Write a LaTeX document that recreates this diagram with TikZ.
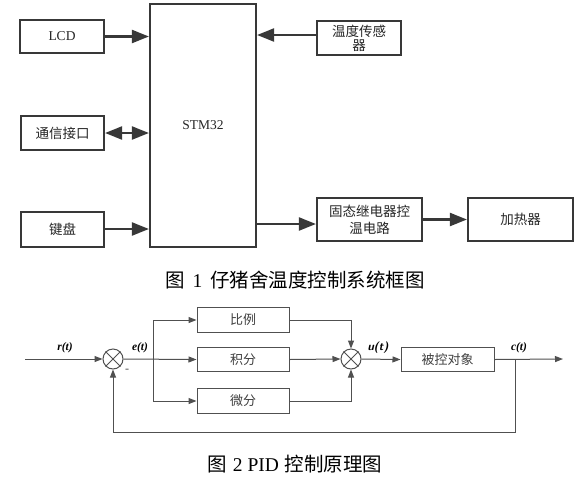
\documentclass[tikz,border=0pt]{standalone}
\usepackage{fontspec}
\setmainfont{Liberation Serif}
\newfontfamily\cjk{Noto Sans CJK SC}
\usetikzlibrary{arrows.meta,calc}
\definecolor{dk}{HTML}{383838}
\definecolor{gl}{HTML}{505050}
\tikzset{
  topbox/.style={draw=dk,line width=2.2pt,minimum width=#1,inner sep=0pt,align=center,font=\fontsize{13.5}{15}\selectfont\cjk,text=black!85},
  topbox/.default=84pt,
  toparrow/.style={draw=dk,line width=2.2pt,-{Triangle[length=17pt,width=13pt]}},
  botbox/.style={draw=gl,line width=1pt,minimum width=92pt,minimum height=24.5pt,inner sep=0pt,font=\fontsize{13}{15}\selectfont\cjk,text=black!75},
  botline/.style={draw=gl,line width=1pt},
  botarrow/.style={botline,-{Triangle[length=8pt,width=6pt]}},
  sumnode/.style={circle,draw=gl,line width=1pt,minimum size=20pt,inner sep=0pt},
  sig/.style={font=\fontsize{11.5}{12}\selectfont\bfseries\itshape},
  captext/.style={font=\fontsize{19.5}{21}\selectfont\cjk}
}
\begin{document}
\begin{tikzpicture}[x=1pt,y=1pt]
\useasboundingbox[fill=white] (0,0) rectangle (586,-480);
% ---- Figure 1 ----
\node[topbox, minimum height=33pt] (lcd) at (62,-36.5) {\rmfamily LCD};
\node[topbox=83pt, minimum height=34pt] (comm) at (62.5,-133) {通信接口};
\node[topbox=83pt, minimum height=35pt] (key) at (62.5,-229.5) {键盘};
\node[topbox=106pt, minimum height=243pt] (stm) at (203,-125.5) {\rmfamily STM32};
\node[topbox, minimum height=34pt, font=\fontsize{13.5}{14}\selectfont\cjk] (sens) at (359,-38) {温度传感\\器};
\node[topbox=105pt, minimum height=43pt, font=\fontsize{13.5}{17}\selectfont\cjk] (ssr) at (369.5,-219.5) {固态继电器控\\温电路};
\node[topbox=105pt, minimum height=43pt] (heat) at (520.5,-219.5) {加热器};

\draw[toparrow] (lcd.east) -- (lcd.east -| stm.west);
\draw[toparrow,{Triangle[length=17pt,width=13pt]}-{Triangle[length=17pt,width=13pt]}] (comm.east) -- (comm.east -| stm.west);
\draw[toparrow] ($(key.east)+(0,0.5)$) -- ($(key.east -| stm.west)+(0,0.5)$);
\draw[toparrow] ($(sens.west)+(0,3)$) -- ($(sens.west -| stm.east)+(0,3)$);
\draw[toparrow] ($(ssr.west -| stm.east)+(0,-4.5)$) -- ($(ssr.west)+(0,-4.5)$);
\draw[toparrow] (ssr.east) -- (heat.west);

\node[captext] (cap1) at (295,-280) {图\hspace{0.4em}{\rmfamily 1}\hspace{0.4em}仔猪舍温度控制系统框图};

% ---- Figure 2 ----
\coordinate (rin) at (25,-359);
\node[sumnode] (s1) at (113,-359) {};
\draw[gl,line width=1pt] (s1.north east) -- (s1.south west) (s1.north west) -- (s1.south east);
\coordinate (br) at (153,-359);
\node[botbox] (kp) at (243,-320) {比例};
\node[botbox] (ki) at (243,-359.5) {积分};
\node[botbox] (kd) at (243,-401) {微分};
\node[sumnode] (s2) at (351,-359) {};
\draw[gl,line width=1pt] (s2.north east) -- (s2.south west) (s2.north west) -- (s2.south east);
\node[botbox, minimum width=93pt] (plant) at (447.5,-359.5) {被控对象};
\coordinate (tap) at (515,-359);
\coordinate (yout) at (563,-359);
\coordinate (fb) at (515,-432);

\draw[botarrow] (rin) -- (s1.west);
\draw[botarrow] (s1.east) -- (ki.west);
\draw[botarrow] (br) |- (kp.west);
\draw[botarrow] (br) |- (kd.west);
\draw[botarrow] (kp.east) -| (s2.north);
\draw[botarrow] (ki.east) -- (s2.west);
\draw[botarrow] (kd.east) -| (s2.south);
\draw[botarrow] (s2.east) -- (plant.west);
\draw[botarrow] (plant.east) -- (yout);
\draw[botarrow] (tap) -- (fb) -| (s1.south);

\node[sig] (lr) at (65,-348) {r(t)};
\node[sig] (le) at (140,-348) {e(t)};
\node[sig,font=\fontsize{11.5}{12}\selectfont\sffamily\bfseries\itshape] (lu) at (378,-348) {u(t)};
\node[sig] (lc) at (519,-348) {c(t)};
\node[font=\fontsize{12}{12}\selectfont, text=gl] (minus) at (127,-371) {-};

\node[captext] (cap2) at (295,-464) {图\hspace{0.3em}{\rmfamily 2 PID}\hspace{0.3em}控制原理图};
\end{tikzpicture}
\end{document}
